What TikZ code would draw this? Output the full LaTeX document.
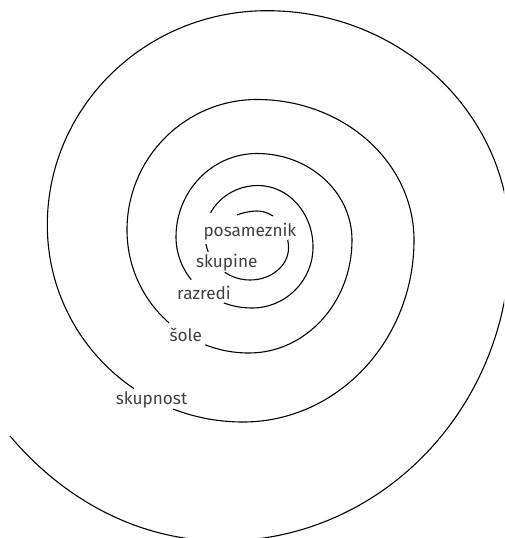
\documentclass[tikz,border=0pt]{standalone}
\usepackage{fontspec}
\setmainfont{Fira Sans}
\definecolor{labelgray}{RGB}{64,64,64}
\begin{document}
\begin{tikzpicture}[x=1pt,y=-1pt,
  spiral/.style={line width=1.1pt, black},
  eraser/.style={white, line width=10pt},
  lbl/.style={anchor=base west, inner sep=0pt, text=labelgray, font=\fontsize{17.2}{20}\selectfont}]
\useasboundingbox (0,0) rectangle (504,538);
\clip (0,0) rectangle (504,538);
\draw[spiral] (237,215) .. controls (241.8,212.7) and (251.7,211) .. (257,211)
 .. controls (274.4,211) and (288.5,227.57) .. (288.5,248)
 .. controls (288.5,265.67) and (271.26,280) .. (250,280)
 .. controls (225.15,280) and (205,259.85) .. (205,235)
 .. controls (205,207.66) and (228.73,185.5) .. (258,185.5)
 .. controls (288.38,185.5) and (313,213.03) .. (313,247)
 .. controls (313,280.69) and (285.69,308) .. (252,308)
 .. controls (210.03,308) and (176,276.21) .. (176,237)
 .. controls (176,190.88) and (212.26,153.5) .. (257,153.5)
 .. controls (309.47,153.5) and (352,192.23) .. (352,240)
 .. controls (352,302.41) and (305.89,353) .. (249,353)
 .. controls (181.62,353) and (127,297.93) .. (127,230)
 .. controls (127,157.92) and (185.2,99.5) .. (257,99.5)
 .. controls (343.71,99.5) and (414,162.4) .. (414,240)
 .. controls (414,340.52) and (337.44,422) .. (243,422)
 .. controls (134.92,422) and (47.3,333.8) .. (47.3,225)
 .. controls (47.3,106.64) and (145.66,10.7) .. (267,10.7)
 .. controls (401.21,10.7) and (510,114.25) .. (510,242)
 .. controls (510,407.14) and (381.51,541) .. (223,541)
 .. controls (143.2,541) and (66.76,503.25) .. (10,436);
% gaps in the spiral where the labels sit
\coordinate (g1a) at (276,215);   \coordinate (g1b) at (287,240);
\coordinate (g2a) at (206,244);   \coordinate (g2b) at (211,213);
\coordinate (g3a) at (209.5,251); \coordinate (g3b) at (225,272);
\coordinate (g4a) at (223,304);   \coordinate (g4b) at (192,279);
\coordinate (g5a) at (205,345);   \coordinate (g5b) at (169,323);
\coordinate (g6a) at (173,409);   \coordinate (g6b) at (135,387);
\foreach \g in {1,...,6} {\draw[eraser] (g\g a) -- (g\g b);}
% labels
\node[lbl] (posameznik) at (203.3,236.7) {posameznik};
\node[lbl] (skupine) at (196,267.3) {skupine};
\node[lbl] (razredi) at (177,299.3) {razredi};
\node[lbl] (sole) at (169.3,341) {šole};
\node[lbl] (skupnost) at (115.7,404.3) {skupnost};
\end{tikzpicture}
\end{document}
